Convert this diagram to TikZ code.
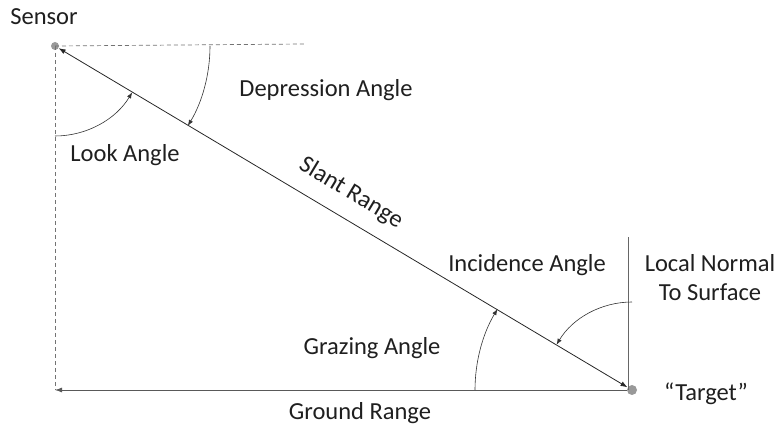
\documentclass[tikz,border=0pt]{standalone}
\usepackage{fontspec}
\setmainfont{Carlito}
\usetikzlibrary{arrows.meta}

\begin{document}
\begin{tikzpicture}[x=1pt, y=1pt,
  lbl/.style={font=\fontsize{24.5}{29}\selectfont, text=black!88, inner sep=0pt},
  dot/.style={circle, fill=gray!80, inner sep=0pt, minimum size=8pt},
  guide/.style={black!55, dash pattern=on 4pt off 3pt, line width=0.7pt},
  ray/.style={black!85, line width=0.8pt},
  tip/.style={-{Latex[length=7pt, width=5pt]}},
  ang/.style={black!80, line width=0.6pt, -{Latex[length=6pt, width=4.5pt]}}
]
\useasboundingbox (0,0) rectangle (780,-430);
% ── Points ────────────────────────────
\node[dot] (sensor) at (55,-46) {};
\node[dot, minimum size=10pt] (target) at (632,-390) {};
\coordinate (ground) at (55,-390);
\coordinate (horiz) at (305,-44);
\coordinate (normal) at (628,-237);
% ── Lines ─────────────────────────────
\draw[guide] (sensor.center) -- (horiz);
\draw[guide] (sensor.center) -- (ground);
\draw[ray, {Latex[length=7pt, width=5pt]}-{Latex[length=7pt, width=5pt]}] (sensor) -- (target);
\draw[ray, black!65, tip] (target) -- (ground);
\draw[black!60, line width=0.8pt] (normal |- target) -- (normal);
% ── Angles ────────────────────────────
\draw[ang] ([shift={(-90:90pt)}]sensor.center) arc[start angle=-90, end angle=-31, radius=90pt];
\draw[ang] ([shift={(0:155pt)}]sensor.center) arc[start angle=0, end angle=-31, radius=155pt];
\draw[ang] ([shift={(180:157pt)}]target.center) arc[start angle=180, end angle=149, radius=157pt];
\draw[ang] ([shift={(90:88pt)}]target.center) arc[start angle=90, end angle=149, radius=88pt];
% ── Labels ────────────────────────────
\node[lbl] (sensorlbl) at (44,-17) {Sensor};
\node[lbl] (deplbl) at (326,-90) {Depression Angle};
\node[lbl] (looklbl) at (125,-155) {Look Angle};
\node[lbl, rotate=-31] (slantlbl) at (351,-193) {Slant Range};
\node[lbl] (inclbl) at (527,-265) {Incidence Angle};
\node[lbl, align=center] (normlbl) at (710,-278) {Local Normal\\To Surface};
\node[lbl] (grazlbl) at (372,-348) {Grazing Angle};
\node[lbl] (groundlbl) at (360,-413) {Ground Range};
\node[lbl] (targetlbl) at (706,-394) {``Target''};
\end{tikzpicture}
\end{document}
